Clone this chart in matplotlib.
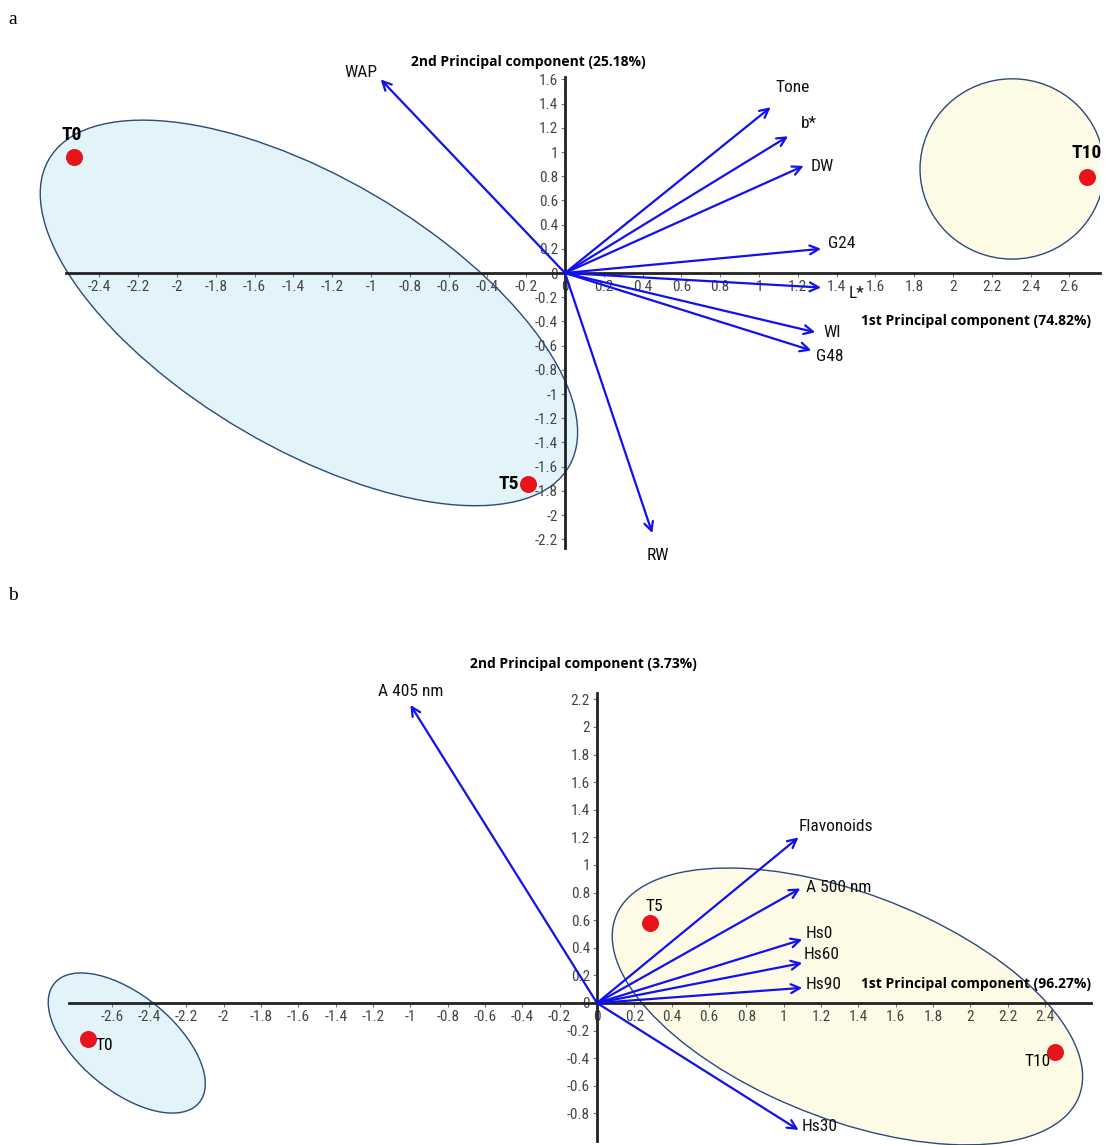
import numpy as np
import matplotlib
matplotlib.use("Agg")
from matplotlib import pyplot as plt
from matplotlib import font_manager
from matplotlib.patches import Ellipse
from matplotlib.ticker import FuncFormatter, MultipleLocator

# ---- panel a data ----
a_samples = ["T0", "T5", "T10"]
a_samp_pc1 = [-2.53, -0.19, 2.69]
a_samp_pc2 = [0.96, -1.74, 0.79]

a_vars = ["WAP", "Tone", "b*", "DW", "G24", "L*", "WI", "G48", "RW"]
a_var_pc1 = [-0.95, 1.06, 1.15, 1.23, 1.32, 1.32, 1.29, 1.27, 0.45]
a_var_pc2 = [1.60, 1.37, 1.13, 0.885, 0.20, -0.12, -0.49, -0.64, -2.15]

a_pc1_label = "1st Principal component (74.82%)"
a_pc2_label = "2nd Principal component (25.18%)"

# ---- panel b data ----
b_samples = ["T0", "T5", "T10"]
b_samp_pc1 = [-2.73, 0.284, 2.455]
b_samp_pc2 = [-0.26, 0.58, -0.355]

b_vars = ["A 405 nm", "Flavonoids", "A 500 nm", "Hs0", "Hs60", "Hs90", "Hs30"]
b_var_pc1 = [-1.0, 1.08, 1.09, 1.10, 1.10, 1.10, 1.08]
b_var_pc2 = [2.16, 1.20, 0.83, 0.46, 0.29, 0.11, -0.92]

b_pc1_label = "1st Principal component (96.27%)"
b_pc2_label = "2nd Principal component (3.73%)"

# pick a narrow sans if one exists
fonts = font_manager.fontManager.ttflist
names = {f.name for f in fonts}
NARROW = dict(family=["Liberation Sans", "DejaVu Sans"], stretch="normal")
for cand in ["Liberation Sans Narrow", "Arial Narrow", "Roboto Condensed", "Open Sans Condensed"]:
    if cand in names:
        NARROW = dict(family=[cand, "DejaVu Sans"], stretch="normal")
        break
else:
    for f in fonts:
        if f.name in ("DejaVu Sans", "Noto Sans", "Open Sans", "Roboto") and str(f.stretch) in ("condensed", "semi-condensed", "75", "87"):
            NARROW = dict(family=[f.name], stretch="condensed")
            break
BOLDF = ["Open Sans", "DejaVu Sans"]
BLUE = "#1010f0"
RED = "#e8141c"
EDGE = "#2b4a7a"

fig = plt.figure(figsize=(11.07, 11.45), dpi=100)
W, H = 1107, 1145


def narrow_text(t):
    t.set_family(NARROW["family"])
    t.set_stretch(NARROW["stretch"])


def make_axes(left, right, top, bottom, x0, y0, sx, sy):
    # pixel box -> axes, origin at pixel (x0, y0), sx/sy pixels per unit
    ax = fig.add_axes([left / W, 1 - bottom / H, (right - left) / W, (bottom - top) / H])
    ax.set_xlim((left - x0) / sx, (right - x0) / sx)
    ax.set_ylim((y0 - bottom) / sy, (y0 - top) / sy)
    ax.patch.set_alpha(0)
    for s in ["top", "right"]:
        ax.spines[s].set_visible(False)
    ax.spines["left"].set_position(("data", 0))
    ax.spines["bottom"].set_position(("data", 0))
    for s in ["left", "bottom"]:
        ax.spines[s].set_linewidth(2)
        ax.spines[s].set_color("#222222")
    fmt = FuncFormatter(lambda v, p: "%g" % (round(v, 1) + 0.0))
    ax.xaxis.set_major_formatter(fmt)
    ax.yaxis.set_major_formatter(fmt)
    ax.tick_params(direction="out", length=3, width=0.8, color="#777777",
                   labelcolor="#444444", labelsize=11, pad=2)
    return ax


def finish_ticks(ax, xr, yr):
    ax.set_xticks(np.round(np.arange(xr[0], xr[1] + 0.01, 0.2), 1))
    ax.set_yticks(np.round(np.arange(yr[0], yr[1] + 0.01, 0.2), 1))
    for lab in ax.get_xticklabels() + ax.get_yticklabels():
        narrow_text(lab)


def draw_arrows(ax, xs, ys, names, offs, size):
    for x, y, n in zip(xs, ys, names):
        ax.annotate("", xy=(x, y), xytext=(0, 0),
                    arrowprops=dict(arrowstyle="->", color=BLUE, lw=1.6,
                                    mutation_scale=16, shrinkA=0, shrinkB=0),
                    zorder=4)
        dx, dy, ha = offs[n]
        t = ax.annotate(n, xy=(x, y), xytext=(dx, dy), textcoords="offset pixels",
                        ha=ha, va="center", fontsize=size, color="#111111")
        narrow_text(t)


# ================= panel a =================
axa = make_axes(10, 1100, 50, 570, 565, 273, 194, 121)
finish_ticks(axa, (-2.4, 2.6), (-2.2, 1.6))
axa.spines["bottom"].set_bounds(-2.57, 2.76)
axa.spines["left"].set_bounds(-2.27, 1.62)

axa.add_patch(Ellipse((-1.32, -0.33), 3.81, 1.82, angle=-51.4, facecolor="#e2f3fa",
                      edgecolor=EDGE, lw=1.0, zorder=0.5))
axa.add_patch(Ellipse((2.305, 0.86), 0.95, 1.49, angle=0, facecolor="#fdfbe6",
                      edgecolor=EDGE, lw=1.0, zorder=0.5))

a_offs = {"WAP": (-3, 7, "right"), "Tone": (5, 20, "left"), "b*": (13, 13, "left"),
          "DW": (7, -1, "left"), "G24": (7, 5, "left"), "L*": (28, -6, "left"),
          "WI": (8, 0, "left"), "G48": (5, -6, "left"), "RW": (6, -22, "center")}
draw_arrows(axa, a_var_pc1, a_var_pc2, a_vars, a_offs, 12.5)

axa.scatter(a_samp_pc1, a_samp_pc2, s=150, color=RED, zorder=5, linewidths=0)
a_soffs = {"T0": (-2, 22, "center"), "T5": (-9, 0, "right"), "T10": (0, 24, "center")}
for x, y, n in zip(a_samp_pc1, a_samp_pc2, a_samples):
    dx, dy, ha = a_soffs[n]
    t = axa.annotate(n, xy=(x, y), xytext=(dx, dy), textcoords="offset pixels", ha=ha,
                     va="center", fontsize=14, fontweight="bold")
    narrow_text(t)

axa.text(2.12, -0.40, a_pc1_label, ha="center", va="center", fontsize=10,
         fontweight="bold", family=BOLDF)
axa.text(-0.19, 1.74, a_pc2_label, ha="center", va="center", fontsize=10,
         fontweight="bold", family=BOLDF)

# ================= panel b =================
axb = make_axes(10, 1100, 640, 1145, 597, 1003, 186.6, 138)
finish_ticks(axb, (-2.6, 2.4), (-0.8, 2.2))
axb.spines["bottom"].set_bounds(-2.83, 2.65)
axb.spines["left"].set_bounds(-1.0, 2.25)

axb.add_patch(Ellipse((-2.52, -0.29), 1.18, 0.59, angle=-54, facecolor="#e2f3fa",
                      edgecolor=EDGE, lw=1.0, zorder=0.5))
axb.add_patch(Ellipse((1.342, -0.025), 2.83, 1.54, angle=-32.8, facecolor="#fdfbe6",
                      edgecolor=EDGE, lw=1.0, zorder=0.5))

b_offs = {"A 405 nm": (0, 13, "center"), "Flavonoids": (0, 11, "left"),
          "A 500 nm": (6, 1, "left"), "Hs0": (3, 6, "left"), "Hs60": (1, 8, "left"),
          "Hs90": (3, 3, "left"), "Hs30": (3, 3, "left")}
draw_arrows(axb, b_var_pc1, b_var_pc2, b_vars, b_offs, 12.5)

axb.scatter(b_samp_pc1, b_samp_pc2, s=150, color=RED, zorder=5, linewidths=0)
b_soffs = {"T0": (8, -7, "left"), "T5": (4, 16, "center"), "T10": (-17, -10, "center")}
for x, y, n in zip(b_samp_pc1, b_samp_pc2, b_samples):
    dx, dy, ha = b_soffs[n]
    t = axb.annotate(n, xy=(x, y), xytext=(dx, dy), textcoords="offset pixels", ha=ha,
                     va="center", fontsize=12.5)
    narrow_text(t)

axb.text(2.03, 0.14, b_pc1_label, ha="center", va="center", fontsize=10,
         fontweight="bold", family=BOLDF)
axb.text(-0.075, 2.46, b_pc2_label, ha="center", va="center", fontsize=10,
         fontweight="bold", family=BOLDF)

fig.text(8 / W, 1 - 20 / H, "a", fontsize=14, family=["Liberation Serif", "DejaVu Serif"],
         va="center")
fig.text(8 / W, 1 - 595 / H, "b", fontsize=14, family=["Liberation Serif", "DejaVu Serif"],
         va="center")

fig.savefig("out.png", dpi=100)
